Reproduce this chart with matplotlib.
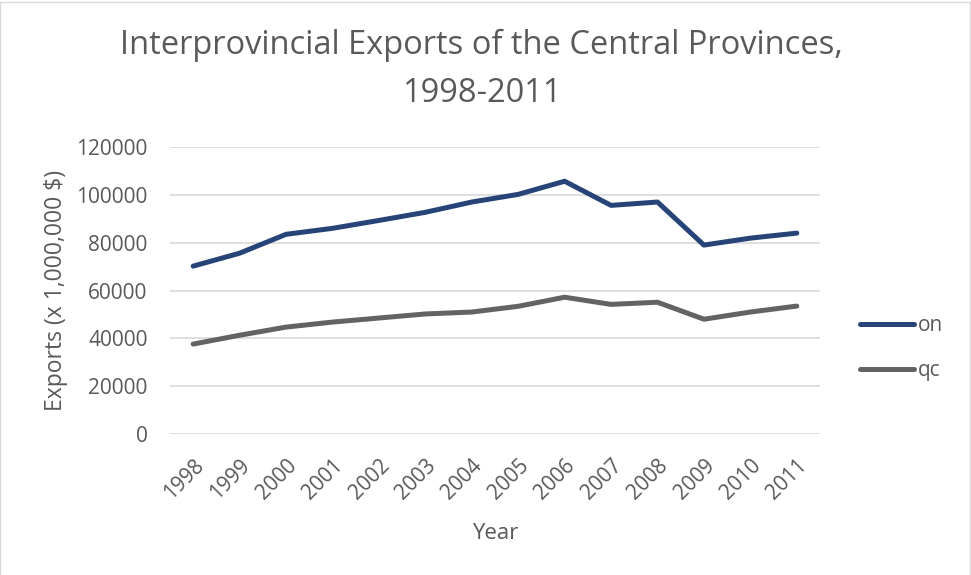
import matplotlib.pyplot as plt
from matplotlib.lines import Line2D

plt.rcParams['font.family'] = ['Open Sans', 'DejaVu Sans']

years = ['1998', '1999', '2000', '2001', '2002', '2003', '2004',
         '2005', '2006', '2007', '2008', '2009', '2010', '2011']
on = [70200, 75600, 83500, 86000, 89300, 92700, 97000,
      100200, 105700, 95600, 97000, 79000, 81900, 84000]
qc = [37600, 41300, 44700, 46800, 48500, 50200, 51000,
      53400, 57200, 54200, 55100, 48000, 51000, 53500]
yticks = [0, 20000, 40000, 60000, 80000, 100000, 120000]

text_col = '#595959'

fig = plt.figure(figsize=(9.71, 5.75), dpi=100)
ax = fig.add_axes([0.175, 0.2452, 0.6695, 0.4991])

x = range(len(years))
ax.plot(x, on, color='#264478', lw=3.6, solid_capstyle='round',
        solid_joinstyle='round', label='on')
ax.plot(x, qc, color='#636363', lw=3.6, solid_capstyle='round',
        solid_joinstyle='round', label='qc')

ax.set_xlim(-0.5, len(years) - 0.5)
ax.set_ylim(0, 120000)
ax.set_yticks(yticks)
ax.set_yticklabels([str(v) for v in yticks])
ax.set_xticks(list(x))
ax.set_xticklabels(years, rotation=45, ha='right', rotation_mode='anchor')

ax.grid(axis='y', color='#d9d9d9', lw=1.2)
ax.set_axisbelow(True)
for s in ax.spines.values():
    s.set_visible(False)
ax.tick_params(length=0, labelsize=15, colors=text_col)
ax.tick_params(axis='y', pad=16)
ax.tick_params(axis='x', pad=15)

ax.set_xlabel('Year', fontsize=16, color=text_col, labelpad=14)
ax.set_ylabel('Exports (x 1,000,000 $)', fontsize=16.5, color=text_col, labelpad=6)

fig.text(0.496, 0.879, 'Interprovincial Exports of the Central Provinces,\n1998-2011',
         ha='center', va='center', fontsize=23.5, color=text_col, linespacing=1.58)

ax.legend(loc='center left', bbox_to_anchor=(1.0615, 0.30), frameon=False,
          borderpad=0, borderaxespad=0, fontsize=15, labelcolor=text_col,
          handlelength=2.6, handletextpad=0.2, labelspacing=1.15)

# light frame round the chart area (left, top, right)
for xs, ys in [([0.0005, 0.0005], [0, 0.9965]),
               ([0.0005, 0.9985], [0.9965, 0.9965]),
               ([0.9985, 0.9985], [0, 0.9965])]:
    fig.add_artist(Line2D(xs, ys, transform=fig.transFigure,
                          color='#d9d9d9', lw=1))

fig.savefig('out.png', dpi=100)
